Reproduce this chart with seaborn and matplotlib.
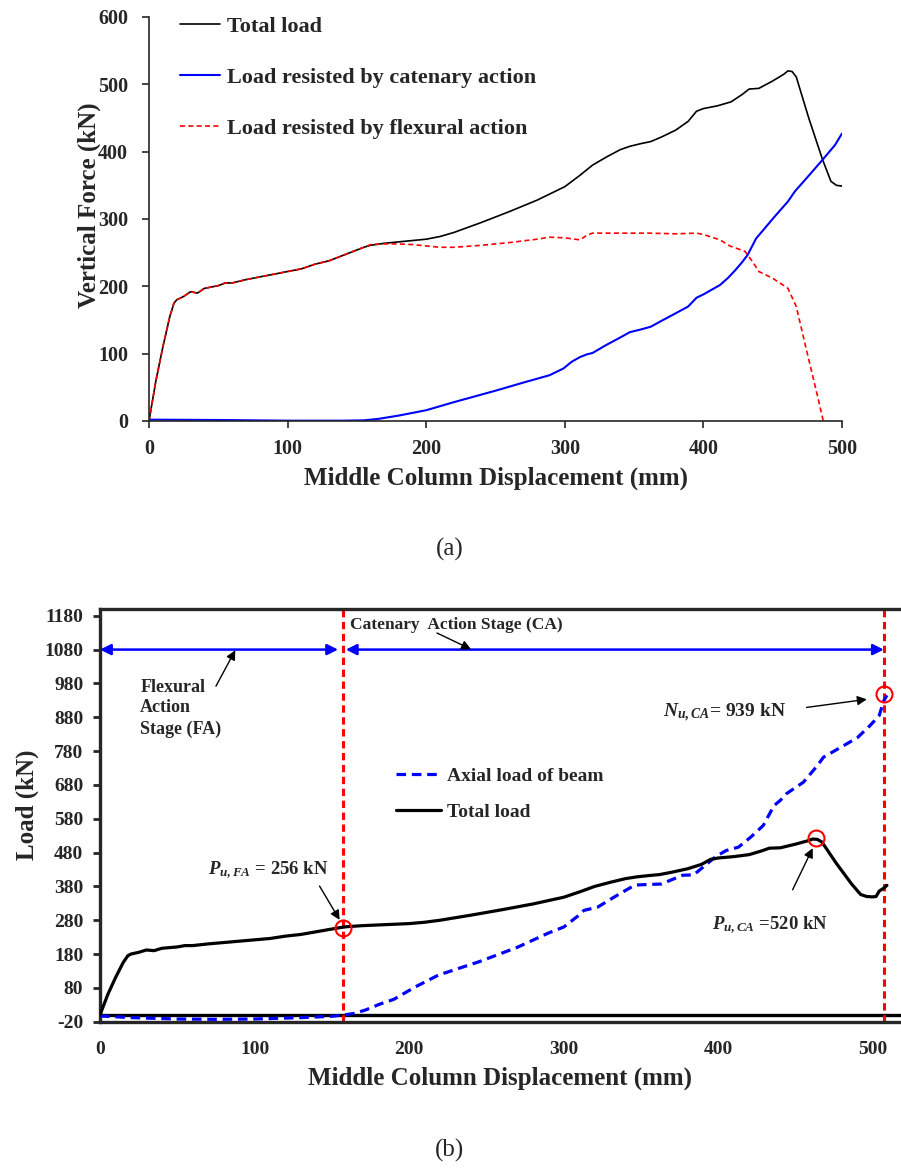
import numpy as np
import pandas as pd
import matplotlib
matplotlib.use("Agg")
import matplotlib.pyplot as plt
import seaborn as sns

# ---------------- data ----------------
# Total load (shared by both panels)
total_x = [0, 5, 10, 15, 18, 20, 25, 30, 35, 40, 45, 50, 55, 60, 70, 80, 90, 100,
           110, 120, 130, 140, 150, 155, 160, 170, 180, 190, 200, 210, 220, 240,
           260, 280, 290, 300, 311, 320, 330, 340, 347, 355, 362, 370, 380, 389,
           395, 400, 410, 420, 428, 433, 440, 450, 458, 461, 464, 467, 476, 486,
           492, 496, 499.5, 502, 504, 507, 509]
total_y = [0, 60, 110, 155, 175, 180, 185, 192, 190, 197, 199, 201, 205, 205, 210, 214, 218, 222,
           226, 233, 238, 246, 254, 258, 261, 264, 266, 268, 270, 274, 280, 295,
           311, 328, 338, 348, 365, 380, 392, 403, 408, 412, 415, 422, 432, 445,
           460, 464, 468, 474, 485, 493, 494, 505, 515, 520, 519, 511, 450, 388,
           356, 350, 349, 350, 366, 375, 383]

# Load resisted by catenary action (panel a)
cat_x = [0, 50, 100, 140, 155, 165, 180, 200, 220, 250, 270, 289, 299, 305, 311, 316,
         320, 330, 340, 347, 355, 362, 370, 380, 389, 395, 400, 412, 418, 423, 428,
         432, 438, 445, 452, 461, 466, 475, 486, 495, 500]
cat_y = [2, 1.5, 0.5, 0.5, 1, 3, 8, 16, 28, 45, 57, 68, 78, 88, 95, 99,
         101, 113, 124, 132, 136, 140, 149, 160, 170, 183, 188, 202, 213, 224, 236,
         247, 271, 288, 305, 326, 341, 362, 388, 410, 427]

# Load resisted by flexural action (panel a)
flex_x = [0, 5, 10, 15, 18, 20, 25, 30, 35, 40, 45, 50, 55, 60, 70, 80, 90, 100,
          110, 120, 130, 140, 150, 155, 160, 170, 180, 190, 200, 210, 220, 240, 260,
          280, 289, 300, 311, 316, 320, 340, 360, 380, 395, 400, 412, 419, 430, 436,
          440, 450, 461, 467, 475, 482, 486.5]
flex_y = [0, 60, 110, 155, 175, 180, 185, 192, 190, 197, 199, 201, 205, 205, 210, 214, 218, 222,
          226, 233, 238, 246, 254, 258, 262, 263, 263, 262, 260, 258, 258, 261, 265,
          270, 273, 272, 269, 276, 279, 279, 279, 278, 279, 277, 269, 260, 252, 235,
          222, 212, 197, 170, 100, 40, 0]

# Axial load of beam (panel b)
axial_x = [0, 20, 50, 75, 100, 130, 150, 158, 165, 172, 181, 190, 204, 219, 245, 270,
           290, 300, 309, 313, 322, 335, 346, 363, 377, 384, 398, 405, 413, 421, 429,
           436, 440, 444, 455, 464, 468, 481, 490, 498, 504, 507, 509]
axial_y = [-3, -8, -12, -13, -12, -8, -4, 0, 5, 15, 32, 46, 83, 118, 157, 200,
           242, 260, 292, 309, 319, 355, 384, 387, 413, 414, 467, 486, 496, 526, 560,
           619, 634, 654, 688, 737, 762, 796, 820, 855, 885, 929, 945]

# key points / stage limits (panel b)
stage_x = [157, 507]
peak_x = [157, 463, 507]
peak_y = [258, 522, 948]

yticks_a = [0, 100, 200, 300, 400, 500, 600]
xticks = [0, 100, 200, 300, 400, 500]
yticks_b = [-20, 80, 180, 280, 380, 480, 580, 680, 780, 880, 980, 1080, 1180]

# ---------------- style ----------------
sns.set_style("ticks")
plt.rcParams["font.family"] = ["Liberation Serif", "DejaVu Serif"]
plt.rcParams["font.weight"] = "bold"
plt.rcParams["axes.unicode_minus"] = False
plt.rcParams["mathtext.fontset"] = "custom"
plt.rcParams["mathtext.rm"] = "Liberation Serif:bold"
plt.rcParams["mathtext.it"] = "Liberation Serif:italic:bold"
plt.rcParams["mathtext.bf"] = "Liberation Serif:bold"

W, H = 901, 1168
fig = plt.figure(figsize=(W / 100, H / 100), dpi=100)

def fx(px):
    return px / W

def fy(py):
    return 1 - py / H

# ---------------- panel (a) ----------------
axa = fig.add_axes([fx(149), fy(421), (842 - 149) / W, (421 - 17) / H])
df_t = pd.DataFrame({"x": total_x, "y": total_y})
df_c = pd.DataFrame({"x": cat_x, "y": cat_y})
df_f = pd.DataFrame({"x": flex_x, "y": flex_y})
sns.lineplot(data=df_t, x="x", y="y", ax=axa, color="black", lw=1.2,
             estimator=None, sort=False, label="Total load")
sns.lineplot(data=df_c, x="x", y="y", ax=axa, color="#0000FF", lw=1.5,
             estimator=None, sort=False, label="Load resisted by catenary action")
sns.lineplot(data=df_f, x="x", y="y", ax=axa, color="#FF0000", lw=1.2,
             estimator=None, sort=False, dashes=False, linestyle=(0, (3, 2)),
             label="Load resisted by flexural action")
axa.set_xlim(0, 500)
axa.set_ylim(0, 600)
axa.set_xticks(xticks)
axa.set_yticks(yticks_a)
for s in ["top", "right"]:
    axa.spines[s].set_visible(False)
for s in ["left", "bottom"]:
    axa.spines[s].set_linewidth(1.2)
axa.tick_params(axis="y", direction="out", length=5, width=1.2, pad=10, labelsize=14.5)
axa.tick_params(axis="x", direction="out", length=5, width=1.2, pad=8, labelsize=14.5)
for lab in axa.get_xticklabels() + axa.get_yticklabels():
    lab.set_fontweight("bold")
axa.set_xlabel("Middle Column Displacement (mm)", fontsize=18, fontweight="bold")
axa.set_ylabel("Vertical Force (kN)", fontsize=18, fontweight="bold")
axa.xaxis.set_label_coords(0.5, (421 - 478) / 404)
axa.xaxis.label.set_va("center")
axa.yaxis.set_label_coords((89 - 149) / 693, (421 - 205) / 404)
axa.yaxis.label.set_va("center")
leg = axa.legend(loc="upper left", bbox_to_anchor=((180 - 149) / 693, (421 - 16) / 404),
                 frameon=False, fontsize=16, handlelength=1.8, handletextpad=0.3,
                 labelspacing=1.38, borderaxespad=0, borderpad=0)
for t in leg.get_texts():
    t.set_fontweight("bold")

fig.text(fx(450), fy(549), "(a)", ha="center", va="center", fontsize=18, fontweight="normal")

# ---------------- panel (b) ----------------
xmax_b = (W - 100) / 1.546
axb = fig.add_axes([fx(100), fy(1021.7), (W - 100) / W, (1021.7 - 609) / H])
df_t2 = pd.DataFrame({"x": total_x, "y": total_y})
df_a = pd.DataFrame({"x": axial_x, "y": axial_y})
axb.axhline(0, color="black", lw=2.4, zorder=1)
for xv in stage_x:
    axb.axvline(xv, color="#FF0000", lw=2.2, linestyle=(0, (2.4, 1.5)), zorder=2)
sns.lineplot(data=df_a, x="x", y="y", ax=axb, color="#0000FF", lw=2.3,
             estimator=None, sort=False, linestyle=(0, (3, 1.8)),
             label="Axial load of beam", zorder=3)
sns.lineplot(data=df_t2, x="x", y="y", ax=axb, color="black", lw=2.3,
             estimator=None, sort=False, label="Total load", zorder=4)
axb.plot(peak_x, peak_y, linestyle="none", marker="o", markersize=11.5,
         markerfacecolor="none", markeredgecolor="#FF0000", markeredgewidth=1.5, zorder=5)
axb.set_xlim(0, xmax_b)
axb.set_ylim(-20, 1200)
axb.set_xticks(xticks)
axb.set_yticks(yticks_b)
axb.spines["right"].set_visible(False)
for s in ["left", "bottom", "top"]:
    axb.spines[s].set_linewidth(2.4)
axb.tick_params(axis="y", direction="out", length=5, width=2, pad=7, labelsize=14)
axb.tick_params(axis="x", length=0, pad=14, labelsize=14)
for lab in axb.get_xticklabels() + axb.get_yticklabels():
    lab.set_fontweight("bold")
axb.set_xlabel("Middle Column Displacement (mm)", fontsize=18, fontweight="bold")
axb.set_ylabel("Load (kN)", fontsize=18, fontweight="bold")
axb.xaxis.set_label_coords(0.5, (1021.7 - 1078) / 412.7)
axb.xaxis.label.set_va("center")
axb.yaxis.set_label_coords((27 - 100) / 801, (1021.7 - 805) / 412.7)
axb.yaxis.label.set_va("center")
legb = axb.legend(loc="upper left", bbox_to_anchor=((396 - 100) / 801, (1021.7 - 767) / 412.7),
                  frameon=False, fontsize=14, handlelength=2.3, handletextpad=0.3,
                  labelspacing=0.95, borderaxespad=0, borderpad=0)
for t in legb.get_texts():
    t.set_fontweight("bold")

# stage arrows
blue_arrow = dict(arrowstyle="<|-|>", color="#0000FF", lw=1.8, mutation_scale=16,
                  shrinkA=0, shrinkB=0)
axb.annotate("", xy=(0, 1080), xytext=(154, 1080), arrowprops=blue_arrow)
axb.annotate("", xy=(159, 1080), xytext=(507, 1080), arrowprops=blue_arrow)

black_arrow = dict(arrowstyle="-|>", color="black", lw=1.0, mutation_scale=14,
                   shrinkA=0, shrinkB=0)
axb.text(162, 1152, "Catenary  Action Stage (CA)", fontsize=12.5, fontweight="bold",
         ha="left", va="center")
axb.annotate("", xy=(240, 1081), xytext=(218, 1129), arrowprops=black_arrow)
axb.text(26, 907, "Flexural\nAction\nStage (FA)", fontsize=13, fontweight="bold",
         ha="left", va="center", linespacing=1.3)
axb.annotate("", xy=(87.5, 1078), xytext=(75, 972), arrowprops=black_arrow)

axb.text(364, 892, r"$N_{u,CA}$= 939 kN", fontsize=14, fontweight="bold",
         ha="left", va="center")
axb.annotate("", xy=(496, 933), xytext=(457, 909), arrowprops=black_arrow)
axb.text(70, 426, r"$P_{u,FA}$ = 256 kN", fontsize=13.5, fontweight="bold",
         ha="left", va="center")
axb.annotate("", xy=(155, 281), xytext=(142, 381), arrowprops=black_arrow)
axb.text(396, 266, r"$P_{u,CA}$ =520 kN", fontsize=13.5, fontweight="bold",
         ha="left", va="center")
axb.annotate("", xy=(461, 493), xytext=(448, 370), arrowprops=black_arrow)

fig.text(fx(450), fy(1150), "(b)", ha="center", va="center", fontsize=18, fontweight="normal")

fig.savefig("out.png", dpi=100)
